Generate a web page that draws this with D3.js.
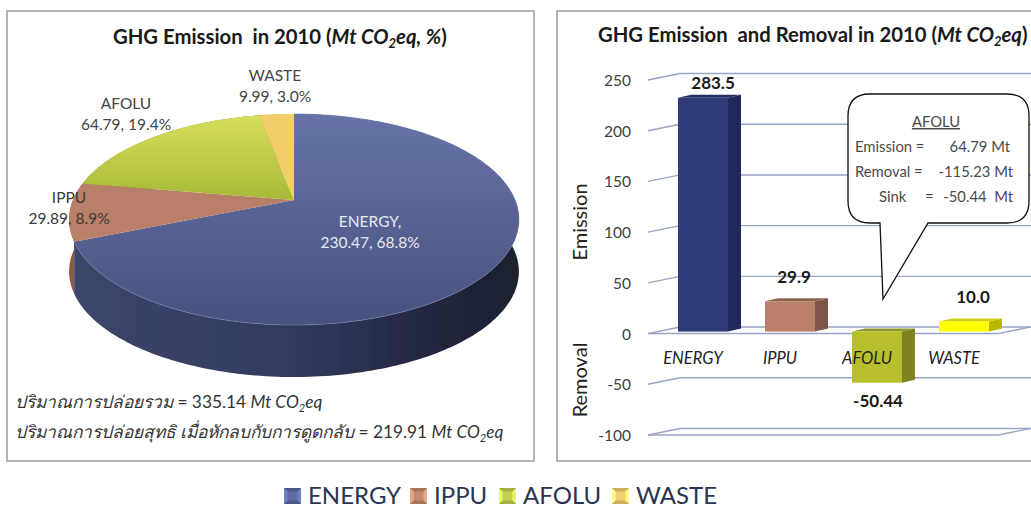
<!DOCTYPE html>
<html>
<head>
<meta charset="utf-8">
<script src="https://cdn.jsdelivr.net/npm/d3@7"></script>
<style>
    body { margin: 0; background: #fff; overflow: hidden; }
    text { font-family: Lato, "Noto Sans", sans-serif; white-space: pre; }
</style>
</head>
<body>
<div id="chart"></div>
<script>
// chart values
const categories = ["ENERGY", "IPPU", "AFOLU", "WASTE"];
const pieValues = [230.47, 29.89, 64.79, 9.99];
const pieLabels = [["ENERGY,", "230.47, 68.8%"], ["IPPU", "29.89, 8.9%"], ["AFOLU", "64.79, 19.4%"], ["WASTE", "9.99, 3.0%"]];
const barValues = [230.47, 29.89, -50.44, 9.99];
const barLabels = ["283.5", "29.9", "-50.44", "10.0"];
const yTicks = [250, 200, 150, 100, 50, 0, -50, -100];

const topColors = ["url(#energyTop)", "#b97f68", "url(#afoluTop)", "#f2cd6a"];
const sideColors = ["url(#energySide)", "#8a5a48", "#8f9a2c", "#b89a48"];
const barFront = ["#2f3a78", "#b97f68", "#b8bf2c", "#ffff00"];
const barSide = ["#20295a", "#7e5546", "#7d8320", "#b8b800"];
const barTop = ["#242e62", "#8f6250", "#8f962a", "#cfcf10"];
const legendColors = ["#5b6ba3", "#c48a70", "#c4d050", "#f0d070"];

const svg = d3.select("#chart").append("svg")
    .attr("width", 1031)
    .attr("height", 508);

const defs = svg.append("defs");

function addGradient(id, x1, y1, x2, y2, stops) {
    defs.append("linearGradient")
        .attr("id", id)
        .attr("gradientUnits", "userSpaceOnUse")
        .attr("x1", x1).attr("y1", y1)
        .attr("x2", x2).attr("y2", y2)
        .selectAll("stop")
        .data(stops)
        .enter().append("stop")
        .attr("offset", d => d[0])
        .attr("stop-color", d => d[1]);
}
addGradient("energyTop", 0, 114, 0, 325, [[0, "#6773a8"], [1, "#48527e"]]);
addGradient("afoluTop", 0, 114, 0, 200, [[0, "#d8e05c"], [1, "#a8b838"]]);
addGradient("energySide", 70, 0, 519, 0, [[0, "#3c466c"], [0.45, "#343d63"], [0.8, "#222740"], [1, "#1c2030"]]);

defs.append("filter").attr("id", "soft")
    .append("feGaussianBlur").attr("stdDeviation", 0.6);

// panels
svg.append("rect").attr("x", 7).attr("y", 11).attr("width", 527).attr("height", 450)
    .attr("fill", "#fff").attr("stroke", "#9c9c9c").attr("stroke-width", 1.5);
svg.append("rect").attr("x", 557).attr("y", 11).attr("width", 490).attr("height", 450)
    .attr("fill", "#fff").attr("stroke", "#9c9c9c").attr("stroke-width", 1.5);

function title(x, y, parts) {
    let t = svg.append("text").attr("x", x).attr("y", y)
        .attr("font-size", 20.3).attr("font-weight", 700).attr("fill", "#1a1a1a");
    parts.forEach(p => {
        t.append("tspan")
            .attr("font-style", p.i ? "italic" : null)
            .attr("font-size", p.sub ? 13 : null)
            .attr("dy", p.sub ? 4 : (p.back ? -4 : null))
            .text(p.s);
    });
}
title(113, 44, [{s: "GHG Emission  in 2010 ("}, {s: "Mt CO", i: 1}, {s: "2", i: 1, sub: 1}, {s: "eq, %", i: 1, back: 1}, {s: ")"}]);
title(598, 42, [{s: "GHG Emission  and Removal in 2010 ("}, {s: "Mt CO", i: 1}, {s: "2", i: 1, sub: 1}, {s: "eq", i: 1, back: 1}, {s: ")"}]);

/* * * * * * * *
*   3D pie     *
* * * * * * * */
const pie3d = {cx: 294, cy: 200, a: 101.9, b: 221, p: 0.185, depth: 52};

// circle angle to screen position, the tilt makes the centre sit above the middle of the ellipse
function project(angle) {
    let u = Math.sin(angle), v = Math.cos(angle), d = 1 + pie3d.p * v;
    return [pie3d.cx + pie3d.b * u / d, pie3d.cy - pie3d.a * v / d];
}
function edge(d) {
    let n = Math.ceil((d.endAngle - d.startAngle) / 0.02);
    return d3.range(n + 1).map(i => project(d.startAngle + (d.endAngle - d.startAngle) * i / n));
}

const arcs = d3.pie().sort(null).value(d => d)(pieValues);
const line = d3.line();
const pieG = svg.append("g").attr("filter", "url(#soft)");

// outer wall, back slices first
pieG.selectAll(".wall")
    .data(arcs.slice().reverse())
    .enter().append("path")
    .attr("class", "wall")
    .attr("fill", d => sideColors[d.index])
    .attr("d", d => {
        let top = edge(d);
        let bottom = top.map(p => [p[0], p[1] + pie3d.depth]).reverse();
        return line(top.concat(bottom)) + "Z";
    });

pieG.selectAll(".slice")
    .data(arcs)
    .enter().append("path")
    .attr("class", "slice")
    .attr("fill", d => topColors[d.index])
    .attr("d", d => line([[pie3d.cx, pie3d.cy]].concat(edge(d))) + "Z");

// light rim on the front of the energy slice
pieG.append("path")
    .attr("fill", "none")
    .attr("stroke", "#7480b0")
    .attr("stroke-opacity", 0.6)
    .attr("d", line(edge(arcs[0])));

const pieLabelPos = [[370, 227, "#e6e9f4"], [69, 203, "#3a3a3a"], [126, 109, "#444"], [275, 81, "#444"]];
pieLabels.forEach((lines, i) => {
    lines.forEach((s, j) => {
        svg.append("text")
            .attr("x", pieLabelPos[i][0])
            .attr("y", pieLabelPos[i][1] + j * 21)
            .attr("text-anchor", "middle")
            .attr("font-size", 15.5)
            .attr("fill", pieLabelPos[i][2])
            .text(s);
    });
});

// notes under the pie
function note(y, thai, num) {
    let t = svg.append("text").attr("x", 15).attr("y", y).attr("font-size", 17.3).attr("fill", "#333");
    t.append("tspan").attr("font-style", "italic").text(thai);
    t.append("tspan").text(" = " + num + " ");
    t.append("tspan").attr("font-style", "italic").text("Mt CO");
    t.append("tspan").attr("font-style", "italic").attr("font-size", 11).attr("dy", 4).text("2");
    t.append("tspan").attr("font-style", "italic").attr("dy", -4).text("eq");
}
note(408, "ปริมาณการปล่อยรวม", "335.14");
note(438, "ปริมาณการปล่อยสุทธิ เมื่อหักลบกับการดูดกลับ", "219.91");

/* * * * * * * *
*   3D bars    *
* * * * * * * */
const y = d3.scaleLinear().domain([-100, 250]).range([435, 80]);
const x = d3.scaleBand().domain(categories).range([678, 989]).paddingInner(0.425).paddingOuter(0);

const floor = {x0: 648, x1: 998, dx: 32, dy: -6.5, back: 1060};
const gridColor = "#98a3c6";

// axis gives the numbers, the slanted ticks and walls are drawn by hand
const yAxis = d3.axisLeft(y).tickValues(yTicks).tickSize(0).tickPadding(0).tickFormat(d => d);
const axisG = svg.append("g").attr("transform", "translate(631,0)").call(yAxis);
axisG.select(".domain").remove();
axisG.selectAll("text")
    .style("font-family", "Lato")
    .attr("font-size", 15.5)
    .attr("fill", "#404040")
    .attr("dy", "0.35em");

const gridG = svg.append("g").attr("stroke", gridColor).attr("stroke-width", 1.4).attr("fill", "none");
yTicks.forEach(t => {
    gridG.append("path").attr("d", line([
        [floor.x0, y(t)],
        [floor.x0 + floor.dx, y(t) + floor.dy],
        [floor.back, y(t) + floor.dy]
    ]));
});
[0, -100].forEach(t => {
    gridG.append("path").attr("d", line([
        [floor.x0, y(t)],
        [floor.x1, y(t)],
        [floor.x1 + floor.dx, y(t) + floor.dy]
    ]));
});

// bars sit 2px behind the front edge of the floor
const barDepth = {dx: 13, dy: -3};
const bars = svg.selectAll(".bar")
    .data(barValues)
    .enter().append("g")
    .attr("class", "bar");

function barBox(d, i) {
    let x0 = x(categories[i]), w = x.bandwidth();
    let top = y(Math.max(d, 0)) - 2, bottom = y(Math.min(d, 0)) - 2;
    return {x0, x1: x0 + w, top, bottom};
}
bars.append("path")
    .attr("fill", (d, i) => barSide[i])
    .attr("d", (d, i) => {
        let b = barBox(d, i);
        return line([[b.x1, b.top], [b.x1 + barDepth.dx, b.top + barDepth.dy], [b.x1 + barDepth.dx, b.bottom + barDepth.dy], [b.x1, b.bottom]]) + "Z";
    });
bars.append("path")
    .attr("fill", (d, i) => barTop[i])
    .attr("d", (d, i) => {
        let b = barBox(d, i);
        return line([[b.x0, b.top], [b.x0 + barDepth.dx, b.top + barDepth.dy], [b.x1 + barDepth.dx, b.top + barDepth.dy], [b.x1, b.top]]) + "Z";
    });
bars.append("rect")
    .attr("fill", (d, i) => barFront[i])
    .attr("x", (d, i) => barBox(d, i).x0)
    .attr("y", (d, i) => barBox(d, i).top)
    .attr("width", x.bandwidth())
    .attr("height", (d, i) => barBox(d, i).bottom - barBox(d, i).top);

svg.selectAll(".cat")
    .data(categories)
    .enter().append("text")
    .attr("class", "cat")
    .attr("x", d => x(d) + x.bandwidth() / 2 - 10)
    .attr("y", 364)
    .attr("text-anchor", "middle")
    .attr("font-size", 16.5)
    .attr("font-style", "italic")
    .attr("fill", "#222")
    .text(d => d);

// the value labels are not quite centred on their bars in the original
const valueShift = [10, 4, 1, 9];
svg.selectAll(".val")
    .data(barValues)
    .enter().append("text")
    .attr("class", "val")
    .attr("x", (d, i) => barBox(d, i).x0 + x.bandwidth() / 2 + valueShift[i])
    .attr("y", (d, i) => {
        if (i == 0) return 89;
        return d < 0 ? barBox(d, i).bottom + 24 : barBox(d, i).top - 18;
    })
    .attr("text-anchor", "middle")
    .attr("font-size", 17)
    .attr("font-weight", 700)
    .attr("fill", "#1a1a1a")
    .text((d, i) => barLabels[i]);

function axisTitle(s, yc) {
    svg.append("text")
        .attr("transform", `translate(587,${yc}) rotate(-90)`)
        .attr("text-anchor", "middle")
        .attr("font-size", 20)
        .attr("fill", "#222")
        .text(s);
}
axisTitle("Emission", 222);
axisTitle("Removal", 380);

// callout
const callout = {x0: 848, x1: 1029, y0: 94, y1: 223, r: 22, tail: [[928, 223], [883, 299], [880, 223]]};
const c = callout;
svg.append("path")
    .attr("fill", "#fff")
    .attr("stroke", "#111")
    .attr("stroke-width", 1.3)
    .attr("d", `M${c.x0 + c.r},${c.y0} H${c.x1 - c.r} Q${c.x1},${c.y0} ${c.x1},${c.y0 + c.r} V${c.y1 - c.r} Q${c.x1},${c.y1} ${c.x1 - c.r},${c.y1}
        H${c.tail[0][0]} L${c.tail[1][0]},${c.tail[1][1]} L${c.tail[2][0]},${c.tail[2][1]}
        H${c.x0 + c.r} Q${c.x0},${c.y1} ${c.x0},${c.y1 - c.r} V${c.y0 + c.r} Q${c.x0},${c.y0} ${c.x0 + c.r},${c.y0} Z`);

function calloutText(x, yPos, s, anchor, deco) {
    svg.append("text").attr("x", x).attr("y", yPos)
        .attr("text-anchor", anchor || "start")
        .attr("font-size", 14.8)
        .attr("fill", "#4a4a4a")
        .attr("text-decoration", deco || null)
        .text(s);
}
calloutText(936, 127, "AFOLU", "middle", "underline");
calloutText(855, 152, "Emission =");
calloutText(1010, 152, "64.79 Mt", "end");
calloutText(855, 177, "Removal =");
calloutText(1013, 177, "-115.23 Mt", "end");
calloutText(879, 202, "Sink");
calloutText(925, 202, "=");
calloutText(1013, 202, "-50.44  Mt", "end");

/* * * * * * * *
*   legend     *
* * * * * * * */
const legendX = [284, 410, 499, 612];
const legend = svg.selectAll(".legend")
    .data(categories)
    .enter().append("g")
    .attr("class", "legend")
    .attr("transform", (d, i) => `translate(${legendX[i]},488)`);

legend.append("rect")
    .attr("width", 17).attr("height", 16)
    .attr("fill", (d, i) => d3.color(legendColors[i]).darker(0.5));
legend.append("path")
    .attr("fill", (d, i) => d3.color(legendColors[i]).brighter(0.5))
    .attr("d", "M0,0 L17,16 L0,16 Z M17,0 L0,16 L17,16 Z");
legend.append("rect")
    .attr("x", 3.5).attr("y", 3.5).attr("width", 10).attr("height", 9)
    .attr("fill", (d, i) => legendColors[i]);
legend.append("text")
    .attr("x", 24)
    .attr("y", 15.5)
    .attr("font-size", 24)
    .attr("fill", "#2a3450")
    .text(d => d);
</script>
</body>
</html>
